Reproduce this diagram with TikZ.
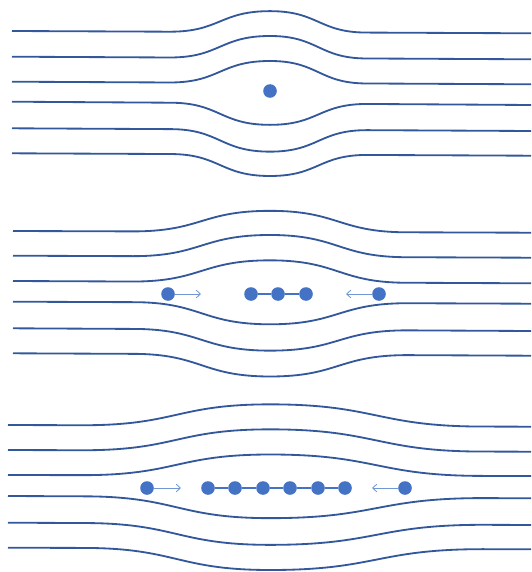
\documentclass[tikz,border=0pt]{standalone}
\usepackage{xcolor}
\usepackage{tikz}
\usetikzlibrary{arrows.meta,positioning}
\definecolor{flowblue}{RGB}{50, 88, 155}
\definecolor{dotblue}{RGB}{68, 114, 196}
\definecolor{pushblue}{RGB}{112, 150, 212}

% one streamline: start x, left y, right y, bulge, bend start, bend end
\newcommand{\flowline}[6]{%
    \pgfmathsetmacro{\bA}{#2+(#3-#2)*(#5-#1)/(531-#1)}
    \pgfmathsetmacro{\bB}{#2+(#3-#2)*(#6-#1)/(531-#1)}
    \pgfmathsetmacro{\pk}{#2+(#3-#2)*(270-#1)/(531-#1)+#4}
    \draw[flow] (#1,#2) -- (#5,\bA)
        .. controls ({(#5+270)/2},\bA) and ({(#5+270)/2},\pk) .. (270,\pk)
        .. controls ({(270+#6)/2},\pk) and ({(270+#6)/2},\bB) .. (#6,\bB) -- (531,#3);
}

\begin{document}
\begin{tikzpicture}[x=0.05cm, y=-0.05cm,
    flow/.style={draw=flowblue, line width=2.6pt},
    particle/.style={circle, fill=dotblue, inner sep=0pt, minimum size=0.68cm},
    bond/.style={draw=dotblue, line width=1.8pt},
    push/.style={draw=pushblue, line width=1.2pt, -{Straight Barb[length=6pt, width=11pt]}}]
    \useasboundingbox (0,0) rectangle (531,572);

    % single particle
    \foreach \yl/\yr/\dy in {31/33.3/-21, 56.7/59.3/-22, 81.7/84.3/-22, 101.7/105/21.5, 128.3/131/22, 153.3/155.7/21.5}
        \flowline{12}{\yl}{\yr}{\dy}{170}{367};
    \node [particle] (d) at (270,91) {};

    % three particles
    \foreach \yl/\yr/\dy in {231/232.7/-21, 255.7/257.7/-21.7, 281/283.3/-21.8, 301.7/303.7/21.6, 328.3/331/21, 353.3/355.7/22}
        \flowline{13}{\yl}{\yr}{\dy}{133}{407};
    \node [particle] (a1) at (168,294) {};
    \node [particle] (b1) at (251,294) {};
    \node [particle] (b2) at (278,294) {};
    \node [particle] (b3) at (306,294) {};
    \node [particle] (c1) at (379,294) {};
    \coordinate (a1tip) at (201,294);
    \coordinate (c1tip) at (346,294);
    \draw [bond] (b1) -- (b2) -- (b3);
    \draw [push] (a1) -- (a1tip);
    \draw [push] (c1) -- (c1tip);

    % six particles
    \foreach \yl/\yr/\dy in {425/426.7/-21.5, 450/451.7/-21.5, 475/476/-21, 496/498.3/21, 522.7/525/21, 547.7/549.3/21.5}
        \flowline{8}{\yl}{\yr}{\dy}{83}{483};
    \node [particle] (a2) at (147,488) {};
    \foreach \x [count=\i] in {208,235,263,290,318,345}
        \node [particle] (m\i) at (\x,488) {};
    \node [particle] (c2) at (405,488) {};
    \coordinate (a2tip) at (181,488);
    \coordinate (c2tip) at (372,488);
    \draw [bond] (m1) -- (m2) -- (m3) -- (m4) -- (m5) -- (m6);
    \draw [push] (a2) -- (a2tip);
    \draw [push] (c2) -- (c2tip);
\end{tikzpicture}
\end{document}
